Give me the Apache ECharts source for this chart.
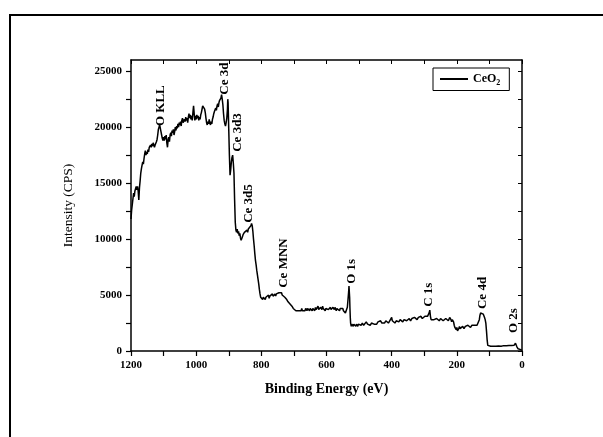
<!DOCTYPE html>
<html>
<head>
<meta charset="utf-8">
<script src="https://cdn.jsdelivr.net/npm/echarts@6/dist/echarts.min.js"></script>
<style>
html,body{margin:0;padding:0;background:#fff;}
#c{width:603px;height:437px;}
</style>
</head>
<body>
<div id="c"></div>
<script>
const energy = [
1200,1198,1196,1194,1192,1190,1188,1186,1184,1182,1180,1178,1176,1174,1172,1170,1168,1166,1164,1162,
1160,1158,1156,1154,1152,1150,1148,1146,1144,1142,1140,1138,1136,1134,1132,1130,1128,1126,1124,1122,
1120,1118,1116,1114,1112,1110,1108,1106,1104,1102,1100,1098,1096,1094,1092,1090,1088,1086,1084,1082,
1080,1078,1076,1074,1072,1070,1068,1066,1064,1062,1060,1058,1056,1054,1052,1050,1048,1046,1044,1042,
1040,1038,1036,1034,1032,1030,1028,1026,1024,1022,1020,1018,1016,1014,1012,1010,1008,1006,1004,1002,
1000,998,996,994,992,990,988,986,984,982,980,978,976,974,972,970,968,966,964,962,
960,958,956,954,952,950,948,946,944,942,940,938,936,934,932,930,928,926,924,922,
920,918,916,914,912,910,908,906,904,903,902,900,898,896,894,892,890,888,886,884,
882,880,878,876,874,872,870,868,866,864,862,860,858,856,854,852,850,848,846,844,
842,840,838,836,834,832,830,828,826,824,822,820,818,816,814,812,810,808,806,804,
802,800,798,796,794,792,790,788,786,784,782,780,778,776,774,772,770,768,766,764,
762,760,758,756,754,752,750,748,746,744,742,740,738,736,734,732,730,728,726,724,
722,720,718,716,714,712,710,708,706,704,702,700,698,696,694,692,690,688,686,684,
682,680,678,676,674,672,670,668,666,664,662,660,658,656,654,652,650,648,646,644,
642,640,638,636,634,632,630,628,626,624,622,620,618,616,614,612,610,608,606,604,
602,600,598,596,594,592,590,588,586,584,582,580,578,576,574,572,570,568,566,564,
562,560,558,556,554,552,550,548,546,544,542,540,538,536,534,532,531,530,529,528,
527,526,524,522,520,518,516,514,512,510,508,506,504,502,500,498,494,490,486,482,
478,474,470,466,462,458,454,450,446,442,438,434,430,426,422,418,414,410,406,402,
400,398,394,390,386,382,378,374,370,366,362,358,354,350,346,342,338,334,330,326,
322,318,314,310,306,302,298,294,290,287,285,283,281,279,277,275,273,270,266,262,
258,254,250,246,242,238,234,230,226,222,220,218,216,214,212,210,208,206,204,202,
200,198,196,194,192,190,186,182,178,174,170,166,162,158,154,150,146,142,138,134,
131,129,127,125,123,121,119,117,115,113,111,109,107,105,103,100,96,92,88,84,
80,76,72,68,64,60,56,52,48,44,40,36,32,28,24,22,20,18,16,14,
12,8,4,0
];
const intensity = [
11800,12600,13100,13600,14100,13800,14300,14200,14700,14400,14700,14300,13500,14600,15200,15900,16300,16600,16900,16700,
17200,17600,17900,17500,17800,17600,18000,17800,18200,18100,18400,18200,18500,18300,18600,18500,18200,18400,18300,18700,
18900,19300,19800,20000,20200,19900,19600,19300,19000,18800,19100,18800,19200,18900,19300,18600,18200,18900,19100,18700,
19300,19500,19200,19700,19500,19800,19300,19600,20000,19700,20100,19900,20300,20000,20400,20200,20500,20100,20600,20800,
20400,20300,20700,20500,20900,20600,20800,20400,20900,21200,20800,21100,20700,21000,20600,21300,21900,21200,20600,21000,
20700,21100,20800,21000,20600,20900,20700,21100,21300,21600,21900,22000,21800,21600,21300,20800,20400,20200,20500,20300,
20700,20400,20200,20500,20300,20700,20900,21200,21400,21300,21700,21500,21900,22100,21800,22200,22400,22300,22600,22900,
22500,22000,21200,20600,20300,20100,20400,20800,21600,22500,22200,19800,17500,15700,16200,16900,17300,17500,16800,15900,
13500,11500,10800,10600,10900,10500,10700,10300,10500,10100,9900,9800,10200,10400,10300,10600,10500,10700,10500,10800,
10600,10900,10800,11000,10900,11200,11400,11200,10700,10000,9400,8700,8100,7700,7200,6800,6400,6000,5500,5100,
4800,4700,4900,4600,4800,4700,4900,4600,4800,4700,4900,4800,5000,4700,4900,4800,5000,4900,5100,4900,
5000,4800,5100,4900,5100,5000,5200,5100,5200,5100,5200,5100,5200,5000,5100,4900,5000,4800,4900,4700,
4600,4500,4400,4500,4300,4200,4300,4100,4000,4100,3800,3900,3700,3800,3600,3700,3500,3700,3600,3700,
3500,3700,3600,3800,3600,3700,3500,3700,3600,3800,3700,3600,3800,3700,3900,3600,3800,3700,3900,3600,
3800,3700,3800,3600,3900,3700,3800,3600,4000,3700,3800,3600,3900,3800,3700,4000,3800,3700,3900,3600,
3800,3700,3900,3800,3700,3800,3600,3900,3700,3800,3600,3900,3800,3700,3900,3800,3600,3800,3900,3700,
3800,3600,3800,3700,3900,3700,3800,3600,3700,3500,3400,3300,3500,3900,4600,5300,5800,5700,4800,3800,
3000,2500,2200,2400,2300,2200,2400,2300,2500,2200,2400,2300,2200,2400,2300,2400,2300,2500,2300,2400,
2600,2400,2500,2300,2500,2600,2400,2500,2400,2600,2500,2700,2500,2600,2500,2700,2600,2500,2700,2600,
3000,2700,2600,2500,2700,2800,2600,2800,2700,2600,2800,2900,2700,2800,2900,2700,2900,2800,3000,2900,
2800,3000,2900,3100,2900,3000,3100,3000,3100,3100,3400,3650,3100,2800,2700,2900,2700,2800,2700,2900,
2800,2700,2900,2800,2700,2800,2900,2800,2700,3000,2900,2800,2600,2800,2700,2600,2300,2100,2000,1900,
2100,1800,1900,2000,2200,2000,2100,2200,2000,2200,2100,2300,2200,2100,2300,2200,2300,2200,2300,2400,
2800,3200,3400,3500,3350,3450,3300,3200,3000,2800,2500,1800,1000,500,450,480,420,450,430,470,
420,460,440,470,430,450,480,440,470,450,490,460,500,480,520,650,700,600,400,250,
200,150,120,100
];
const xTicks = [0,100,200,300,400,500,600,700,800,900,1000,1100,1200];
const xLabels = [0,200,400,600,800,1000,1200];
const yTicks = [0,2500,5000,7500,10000,12500,15000,17500,20000,22500,25000];
const yLabels = [0,5000,10000,15000,20000,25000];
const annoNames = ['O KLL','Ce 3d','Ce 3d3','Ce 3d5','Ce MNN','O 1s','C 1s','Ce 4d','O 2s'];
const annoE = [1108,914,873,838,733,523,285,121,27];
const annoI = [20100,22900,17800,11450,5650,6000,3950,3750,1600];

const FONT = '"Liberation Serif","Times New Roman",serif';
const chart = echarts.init(document.getElementById('c'), null, {renderer:'canvas'});
const lineData = energy.map((e,i)=>[e, intensity[i]]);
const axisLine = {show:true, onZero:false, lineStyle:{color:'#000', width:1.5}};
const plain = v => String(v);
const baseX = {type:'value', min:0, max:1200, inverse:true, splitLine:{show:false}, axisLine};
const baseY = {type:'value', min:0, max:26000, splitLine:{show:false}, axisLine};
chart.setOption({
  animation:false,
  backgroundColor:'#fff',
  grid:{left:131, right:81, top:60, bottom:86, containLabel:false},
  legend:{
    data:['CeO2'], left:433, top:68, orient:'horizontal',
    itemWidth:28, itemHeight:2, itemGap:0,
    padding:[5,9,4,6], borderColor:'#000', borderWidth:1,
    formatter:()=>'{n|CeO}{s|2}',
    textStyle:{color:'#000', fontFamily:FONT, fontWeight:'bold', fontSize:12,
      rich:{n:{fontFamily:FONT,fontWeight:'bold',fontSize:12,color:'#000'},
            s:{fontFamily:FONT,fontWeight:'bold',fontSize:8,color:'#000',padding:[7,0,0,0]}}}
  },
  xAxis:[
    Object.assign({}, baseX, {position:'bottom',
      name:'Binding Energy (eV)', nameLocation:'middle', nameGap:31,
      nameTextStyle:{fontFamily:FONT, fontWeight:'bold', fontSize:14, color:'#000'},
      axisTick:{show:true, inside:false, length:5, lineStyle:{color:'#000',width:1.2}, customValues:xTicks},
      axisLabel:{show:true, margin:9, formatter:plain, fontFamily:FONT, fontWeight:'bold', fontSize:11, color:'#000', customValues:xLabels}}),
    Object.assign({}, baseX, {position:'top',
      axisTick:{show:true, inside:true, length:4, lineStyle:{color:'#000',width:1}, customValues:xTicks},
      axisLabel:{show:false}})
  ],
  yAxis:[
    Object.assign({}, baseY, {position:'left',
      name:'Intensity (CPS)', nameLocation:'middle', nameGap:56,
      nameTextStyle:{fontFamily:FONT, fontSize:13.5, color:'#000'},
      axisTick:{show:true, inside:false, length:5, lineStyle:{color:'#000',width:1.2}, customValues:yTicks},
      axisLabel:{show:true, margin:9, formatter:plain, fontFamily:FONT, fontWeight:'bold', fontSize:11, color:'#000', customValues:yLabels}}),
    Object.assign({}, baseY, {position:'right',
      axisTick:{show:true, inside:true, length:4, lineStyle:{color:'#000',width:1}, customValues:yTicks},
      axisLabel:{show:false}})
  ],
  series:[{
    name:'CeO2', type:'line', xAxisIndex:0, yAxisIndex:0,
    data:lineData, showSymbol:false, symbol:'none',
    lineStyle:{color:'#000', width:1.5}, itemStyle:{color:'#000'}
  }]
});
const graphics = [
  {type:'rect', shape:{x:9, y:14, width:594, height:2}, style:{fill:'#000'}, silent:true},
  {type:'rect', shape:{x:9, y:14, width:2, height:423}, style:{fill:'#000'}, silent:true}
];
annoNames.forEach((n,i)=>{
  const p = chart.convertToPixel({xAxisIndex:0, yAxisIndex:0}, [annoE[i], annoI[i]]);
  graphics.push({type:'text', x:p[0], y:p[1], rotation:Math.PI/2, silent:true,
    style:{text:n, font:'bold 13px ' + FONT, fill:'#000',
      textAlign:'left', textVerticalAlign:'middle', align:'left', verticalAlign:'middle'}});
});
chart.setOption({graphic:graphics});
</script>
</body>
</html>
